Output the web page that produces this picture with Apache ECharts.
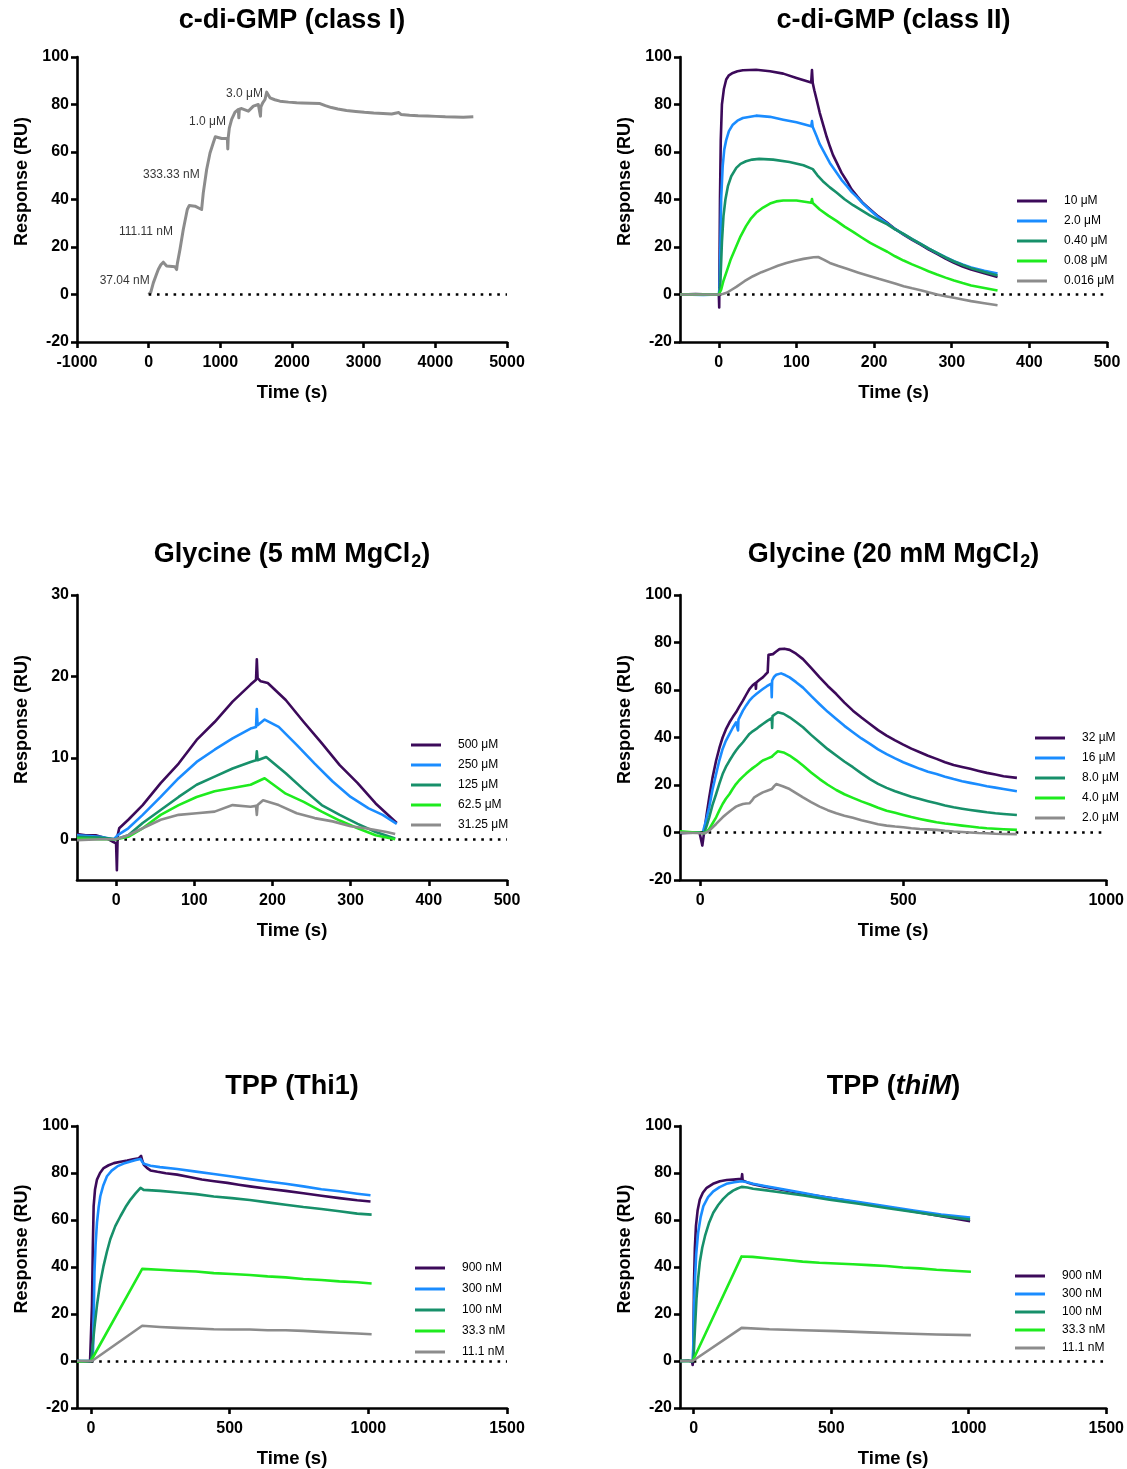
<!DOCTYPE html>
<html>
<head>
<meta charset="utf-8">
<script src="https://cdn.jsdelivr.net/npm/echarts@6/dist/echarts.min.js"></script>
<style>
html,body{margin:0;padding:0;background:#fff;}
#c{width:1127px;height:1469px;}
</style>
</head>
<body>
<div id="c"></div>
<script>
// ---------- DATA ----------
// Panel 1: c-di-GMP (class I) single-cycle trace [time s, response RU]
const classI_trace = [[0,0],[10,-0.5],[30,1],[65,4.9],[100,7.8],[134,10.5],[170,12.5],[204,13.6],[251,12],[367,11.7],[385,11.5],[390,10.5],[400,13],[437,19],[483,27.4],[539,35.8],[567,37.5],[646,37.2],[739,35.8],[745,36.5],[762,42.8],[809,52.6],[856,59.6],[902,63.9],[930,66.4],[1019,65.7],[1098,65.7],[1104,61.3],[1110,66],[1126,70.2],[1158,73.7],[1205,76.8],[1251,77.9],[1258,74.4],[1265,78],[1298,78.3],[1391,77.2],[1461,79.3],[1530,80],[1555,80],[1560,75.1],[1566,79],[1591,80.7],[1623,82.1],[1647,85.2],[1693,82.8],[1760,82],[1832,81.4],[1950,81],[2065,80.7],[2140,80.6],[2390,80.4],[2465,79.5],[2550,78.7],[2640,78.1],[2760,77.5],[2890,77.1],[3010,76.7],[3140,76.4],[3270,76.2],[3390,76],[3490,76.6],[3520,75.8],[3640,75.5],[3760,75.3],[3890,75.2],[4010,75],[4140,74.8],[4270,74.7],[4390,74.6],[4530,74.8]];
const classI_annoText = ['37.04 nM','111.11 nM','333.33 nM','1.0 \u03bcM','3.0 \u03bcM'];
const classI_annoTime = [28, 353, 726, 1093, 1609];
const classI_annoResp = [5.9, 26.4, 50.5, 72.8, 84.4];

// Panel 2: c-di-GMP (class II)
const classII_names = ['10 \u03bcM','2.0 \u03bcM','0.40 \u03bcM','0.08 \u03bcM','0.016 \u03bcM'];
const classII_10 = [[-50,0],[-30,0.2],[-10,0],[0,0],[0.5,-5.5],[1.5,40],[2.5,65],[4,80],[6.5,86.5],[9.5,90.5],[13,92.3],[18,93.3],[24,94],[31,94.4],[48,94.6],[66,94],[83,93],[100,91.2],[119,89.3],[120,94.5],[121,89],[123,86],[126,82],[130,76.5],[135,70.8],[139,66.3],[143,62.4],[147,58.8],[152,55.4],[158,51.3],[165,47.7],[171,44.3],[178,41.4],[186,38.4],[195,35.8],[205,33],[217,30.2],[227,27.6],[238,25.2],[249,23],[260,21],[270,19],[281,17.1],[292,15.1],[303,13.3],[314,11.8],[325,10.5],[342,8.9],[359,7.4]];
const classII_2 = [[-50,0],[-20,-0.2],[0,0],[1,3],[2,20],[3,40],[5,54],[7,61],[9.5,65],[13,68.8],[18,71.5],[24,73.2],[31,74.3],[48,75.3],[66,74.8],[83,73.6],[100,72.5],[119,70.8],[120,73],[121,70.5],[126,66.6],[130,63.3],[135,60.3],[143,55.4],[152,51.2],[158,48.3],[165,45.6],[171,43.2],[178,41],[186,38.2],[195,35.5],[205,32.6],[217,29.9],[227,27.5],[238,25.4],[249,23.3],[260,21.3],[270,19.4],[281,17.5],[292,15.7],[303,14],[314,12.6],[325,11.4],[342,10],[359,8.8]];
const classII_04 = [[-50,0],[0,0],[1,1],[2,5],[4,22],[6,33],[8.5,40],[11.7,45.6],[16,49.8],[22.5,53.3],[28,55],[35,56.1],[43,56.8],[52,57.1],[70,56.8],[91,55.8],[109,54.4],[121,52.8],[127,50.2],[134,47.7],[143,45.1],[152,42.8],[162,40.1],[173,37.6],[184,35.4],[195,33.2],[206,31.3],[217,29.5],[227,27.4],[238,25.5],[249,23.3],[260,21.3],[270,19.4],[281,17.5],[292,15.6],[303,13.9],[314,12.4],[325,11.1],[342,9.5],[359,8]];
const classII_008 = [[-50,0],[0,0],[3,2],[6,5.8],[9.5,9.1],[15,14.5],[22.5,20.3],[28,24.5],[35,28.8],[41,31.8],[48,34.4],[57,36.6],[66,38.3],[74,39.2],[83,39.6],[100,39.6],[119,38.6],[120,40.2],[121,38.5],[130,35.8],[141,33.2],[152,30.9],[162,28.6],[173,26.4],[184,24],[195,21.7],[206,19.8],[217,18],[227,16.1],[238,14.3],[249,12.7],[260,11.2],[270,9.8],[281,8.4],[292,7.1],[303,5.9],[314,4.8],[325,3.8],[342,2.7],[359,1.7]];
const classII_0016 = [[-50,0],[0,0],[5,0.2],[10,0.7],[16,1.9],[22.5,3.2],[33,5.6],[44,7.7],[55,9.4],[66,10.8],[76,12.1],[87,13.3],[98,14.2],[109,15],[122,15.7],[128,15.8],[135,14.7],[143,13.3],[154,12],[165,10.8],[180,9.2],[195,7.7],[206,6.6],[217,5.6],[228,4.5],[238,3.5],[249,2.6],[260,1.8],[270,0.9],[281,0],[292,-0.7],[303,-1.4],[314,-2.1],[325,-2.8],[342,-3.7],[359,-4.5]];

// Panel 3: Glycine (5 mM MgCl2)
const gly5_names = ['500 \u03bcM','250 \u03bcM','125 \u03bcM','62.5 \u03bcM','31.25 \u03bcM'];
const gly5_500 = [[-50,0.65],[-39,0.5],[-26,0.5],[-12,0.1],[-4,-0.3],[0,-0.5],[1,-3.8],[2,0.5],[4,1.35],[15.6,2.4],[34,4.2],[57,6.9],[80,9.3],[103,12.2],[126,14.4],[149,16.9],[172,19],[179,19.6],[180,22.1],[181,19.8],[185,19.4],[194,19.2],[217,17.1],[240,14.4],[263,11.8],[286,9.1],[309,6.9],[332,4.4],[359,2]];
const gly5_250 = [[-50,0.5],[-20,0.3],[-3,0],[2,0.5],[15.6,1.35],[34,3],[57,5.2],[80,7.5],[103,9.5],[126,11],[149,12.4],[172,13.6],[179,13.8],[180,16],[181,14],[190,14.7],[208,13.8],[231,11.6],[254,9.3],[277,7.1],[300,5.2],[323,3.8],[341,3],[359,1.9]];
const gly5_125 = [[-50,0.3],[-20,0.2],[0,0],[15.6,0.5],[34,2],[57,3.6],[80,5.2],[103,6.7],[126,7.7],[149,8.7],[172,9.5],[179,9.7],[180,10.8],[181,9.7],[192,10.1],[217,8.1],[240,6.1],[263,4.2],[286,3],[309,1.9],[332,0.9],[357,0.1]];
const gly5_625 = [[-50,0.1],[-20,0],[0,0],[15.6,0.3],[34,1.35],[57,3],[80,4.2],[103,5.2],[126,5.9],[149,6.3],[172,6.7],[190,7.5],[217,5.6],[240,4.6],[263,3.4],[286,2.3],[309,1.35],[332,0.5],[357,0]];
const gly5_3125 = [[-50,-0.1],[-20,0],[0,0],[15.6,0.5],[34,1.35],[57,2.4],[80,3],[103,3.2],[126,3.4],[149,4.2],[172,4],[179,4.1],[180,3],[181,4.2],[188,4.8],[208,4.2],[231,3.2],[254,2.6],[277,2.2],[300,1.6],[323,1.3],[346,0.9],[357,0.65]];

// Panel 4: Glycine (20 mM MgCl2)
const gly20_names = ['32 \u00b5M','16 \u00b5M','8.0 \u00b5M','4.0 \u00b5M','2.0 \u00b5M'];
const gly20_32 = [[-50,-0.3],[-2,0],[5,-5.5],[10,0.8],[16,8],[22,14.8],[30,23],[39,30.3],[47,35.6],[55,40],[63,43.4],[72,46.4],[80,48.6],[88,50.6],[96,53],[105,55.5],[113,58],[121,60.4],[129,62],[136,63],[137,60.5],[138,63.2],[146,64.3],[154,65.3],[160,66.4],[166,67.4],[168,74.8],[179,75.1],[187,76.2],[195,77.2],[207,77.4],[220,76.9],[236,75.3],[253,73],[273,69.3],[294,65.3],[314,61.7],[335,58.3],[355,54.7],[376,51.3],[397,48.4],[418,45.7],[438,43.1],[459,40.8],[480,38.8],[500,37],[520,35.3],[541,33.8],[561,32.3],[582,31],[603,29.6],[624,28.4],[645,27.6],[665,26.8],[686,25.9],[706,25.1],[727,24.4],[747,23.7],[780,23]];
const gly20_16 = [[-50,0],[6,0],[14,5],[22,10.6],[30,18],[39,24.6],[47,30.4],[55,35.2],[63,38.6],[72,41.5],[80,44.1],[88,46.4],[92,47],[93,43],[94,47.5],[105,51.3],[113,53.5],[121,55.5],[129,57],[138,58.3],[146,59.4],[154,60.4],[164,61.6],[175,62.7],[176,57],[177,64],[182,65.6],[187,66.4],[199,67],[209,66.3],[220,65.3],[236,63.3],[253,61],[273,57.5],[294,54],[314,50.8],[335,47.8],[355,44.9],[376,42.2],[397,39.6],[418,37.3],[438,35],[459,33],[480,31.2],[500,29.6],[520,28.2],[541,26.8],[561,25.6],[582,24.6],[603,23.5],[624,22.5],[645,21.6],[665,20.9],[686,20.2],[706,19.5],[727,18.9],[747,18.3],[780,17.4]];
const gly20_8 = [[-50,0],[10,0],[16,3],[22,6.4],[30,11.5],[39,16.2],[47,20.6],[55,24.6],[63,27.6],[72,30.3],[80,32.5],[88,34.5],[96,36.3],[105,38],[113,39.8],[121,41.5],[129,42.6],[138,43.6],[146,44.7],[154,45.7],[165,47],[176,48.2],[177,44],[178,49],[184,49.8],[191,50.6],[205,50],[220,48.5],[236,46.5],[253,44.3],[273,41.1],[294,38],[314,35.1],[335,32.4],[355,29.9],[376,27.5],[397,24.9],[418,22.5],[438,20.5],[459,18.8],[480,17.4],[500,16.2],[520,15.1],[541,14.1],[561,13.2],[582,12.3],[603,11.4],[624,10.6],[645,10],[665,9.5],[686,9],[706,8.5],[727,8.1],[747,7.8],[780,7.4]];
const gly20_4 = [[-50,0.5],[10,-0.3],[16,0.4],[22,1.5],[30,3.8],[39,6.4],[47,9.3],[55,12],[63,14.2],[72,16.2],[80,18.4],[88,20.4],[96,22],[105,23.5],[113,24.8],[121,26],[129,27.1],[138,28.2],[146,29.3],[154,30.3],[165,31.1],[176,31.9],[184,33.2],[191,34.2],[205,33.7],[220,32.4],[236,30.5],[253,28.2],[273,25.3],[294,22.5],[314,20.1],[335,17.9],[355,16.1],[376,14.6],[397,13.1],[418,11.8],[438,10.4],[459,9.2],[480,8.3],[500,7.4],[520,6.5],[541,5.7],[561,5],[582,4.3],[603,3.8],[624,3.4],[645,2.9],[665,2.5],[686,2.1],[706,1.8],[727,1.6],[747,1.4],[780,1.1]];
const gly20_2 = [[-50,0],[10,-0.3],[16,0.1],[22,0.8],[30,2.1],[39,3.6],[47,5],[55,6.4],[63,7.6],[72,8.8],[80,9.9],[88,10.9],[96,11.5],[105,12],[113,12.2],[121,12.3],[127,13.4],[133,14.8],[144,15.9],[154,16.9],[165,17.6],[176,18.3],[182,19.5],[187,20.4],[203,19.5],[220,18.3],[236,16.6],[253,14.8],[273,12.8],[294,10.9],[314,9.4],[335,8.1],[355,7.1],[376,6.2],[397,5.2],[418,4.3],[438,3.5],[459,2.9],[480,2.5],[500,2.2],[520,1.8],[541,1.5],[561,1.3],[582,1.1],[603,0.7],[624,0.4],[645,0.2],[665,0],[686,-0.2],[706,-0.3],[727,-0.5],[747,-0.6],[780,-0.7]];

// Panel 5: TPP (Thi1)
const thi1_names = ['900 nM','300 nM','100 nM','33.3 nM','11.1 nM'];
const thi1_900 = [[-50,0],[-3,-0.3],[1,0],[4,23.7],[7,48],[10,65.9],[15,73],[22,77.2],[33,80],[46,82.1],[64,83.3],[83,84.2],[107,84.8],[131,85.3],[152,85.8],[173,86.3],[181,87.3],[186,85],[191,83.5],[202,82.2],[215,81.1],[240,80.5],[270,79.9],[311,79.3],[355,78.3],[400,77.2],[445,76.5],[492,75.8],[533,75],[573,74.3],[637,73.3],[702,72.4],[766,71.4],[831,70.3],[896,69.3],[960,68.4],[1008,67.9]];
const thi1_300 = [[-50,0],[5,0],[8,5],[10,18],[13,37.8],[17,49.5],[22,58.9],[28,65.4],[34,70.1],[45,74.8],[58,78.6],[75,81],[95,82.8],[118,84],[143,84.9],[162,85.5],[179,86],[185,84.8],[191,83.9],[215,83.1],[249,82.5],[311,81.7],[379,80.6],[443,79.6],[508,78.5],[573,77.4],[637,76.4],[702,75.4],[766,74.3],[831,73.1],[896,72.2],[960,71.2],[1008,70.5]];
const thi1_100 = [[-50,0],[0,0],[3,2],[8,8.5],[14,15.5],[22,23.7],[33,32.8],[46,40.6],[58,46.6],[70,51.8],[88,57.4],[107,61.7],[125,65.5],[143,68.7],[161,71.3],[179,73.7],[190,72.8],[250,72.4],[314,71.7],[379,71],[443,70],[508,69.3],[573,68.5],[637,67.5],[702,66.5],[766,65.5],[831,64.7],[896,63.7],[960,62.7],[1012,62.3]];
const thi1_333 = [[-50,-0.3],[0,0],[4,0],[185,39.2],[249,38.8],[314,38.4],[379,38.1],[443,37.4],[508,37],[573,36.6],[637,36],[702,35.6],[766,34.9],[831,34.5],[896,33.9],[960,33.5],[1012,33]];
const thi1_111 = [[-50,0],[4,0],[185,15],[249,14.5],[314,14.1],[379,13.8],[443,13.5],[508,13.4],[573,13.4],[637,13.1],[702,13.1],[766,12.8],[831,12.4],[896,12],[960,11.7],[1012,11.4]];

// Panel 6: TPP (thiM)
const thiM_names = ['900 nM','300 nM','100 nM','33.3 nM','11.1 nM'];
const thiM_900 = [[-50,0],[-20,0.2],[-6,-0.3],[-4,-1.7],[-2,0],[1,33.5],[4,48],[8,57.5],[14,64],[22,68.7],[33,71.6],[47,73.7],[70,75.4],[95,76.5],[120,77],[143,77.2],[174,77.5],[176,79.5],[178,76.8],[195,76],[216,75.2],[258,74.2],[300,73.3],[400,71.2],[500,69.3],[600,67.3],[700,65.5],[800,63.6],[900,61.6],[1005,59.5]];
const thiM_300 = [[-50,0],[-4,0],[-2,5.4],[1,22],[4,33.5],[9,45.5],[16,54.7],[25,61.2],[35,65.9],[52,69.7],[71,72.2],[94,74],[119,75.4],[147,76.1],[174,76.5],[177,76.8],[195,76.1],[216,75.4],[258,74.5],[300,73.6],[400,71.5],[494,69.4],[600,67.6],[700,65.8],[800,64],[900,62.3],[1005,61]];
const thiM_100 = [[-50,0],[-2,0],[0,3],[5,15],[10,26.5],[16,35.2],[22,42],[31,48.3],[41,53.2],[55,58.6],[71,63.1],[89,66.4],[107,69],[125,71],[143,72.5],[159,73.4],[174,74.1],[195,73.8],[216,73.3],[258,72.7],[300,72],[400,70.4],[494,68.6],[600,66.9],[700,65.1],[800,63.4],[900,61.7],[1005,60.2]];
const thiM_333 = [[-50,0],[-4,0],[174,44.5],[214,44.3],[275,43.6],[336,43],[396,42.3],[457,41.8],[518,41.5],[579,41.2],[640,40.8],[700,40.4],[761,39.8],[822,39.4],[883,38.8],[944,38.4],[1008,38]];
const thiM_111 = [[-50,0],[-4,0],[174,14.1],[275,13.5],[396,13.1],[518,12.7],[640,12.2],[761,11.7],[883,11.3],[1008,11]];

// Axis ranges / tick labels
const ticksX1 = [-1000,0,1000,2000,3000,4000,5000];
const ticksX500 = [0,100,200,300,400,500];
const ticksX1000 = [0,500,1000];
const ticksX1500 = [0,500,1000,1500];
const ticksY100 = [-20,0,20,40,60,80,100];
const ticksY30 = [0,10,20,30];

// ---------- STYLE / LAYOUT ----------
const colors = ['#3c0a5a','#1a8cff','#17906a','#1eeb1e','#8c8c8c'];
const FONT = 'Liberation Sans, Arial, sans-serif';

const panels = [
  {title:'c-di-GMP (class I)', grid:{left:77,top:57,width:430,height:285}, x:[-1000,5000,ticksX1], y:[-20,100,ticksY100],
   series:[classI_trace], names:null, legend:null},
  {title:'c-di-GMP (class II)', grid:{left:680,top:57,width:427,height:285}, x:[-50,500,ticksX500], y:[-20,100,ticksY100],
   series:[classII_10,classII_2,classII_04,classII_008,classII_0016], names:classII_names, legend:{left:1017,top:194,gap:6}},
  {title:'{b|Glycine (5 mM MgCl}{s|2}{b|)}', grid:{left:77,top:595,width:430,height:285}, x:[-50,500,ticksX500], y:[-5,30,ticksY30],
   series:[gly5_500,gly5_250,gly5_125,gly5_625,gly5_3125], names:gly5_names, legend:{left:411,top:738,gap:6}},
  {title:'{b|Glycine (20 mM MgCl}{s|2}{b|)}', grid:{left:680,top:595,width:427,height:285}, x:[-50,1000,ticksX1000], y:[-20,100,ticksY100],
   series:[gly20_32,gly20_16,gly20_8,gly20_4,gly20_2], names:gly20_names, legend:{left:1035,top:731,gap:6}},
  {title:'TPP (Thi1)', grid:{left:77,top:1126,width:430,height:284}, x:[-50,1500,ticksX1500], y:[-20,100,ticksY100],
   series:[thi1_900,thi1_300,thi1_100,thi1_333,thi1_111], names:thi1_names, legend:{left:415,top:1261,gap:7}},
  {title:'{b|TPP (}{i|thiM}{b|)}', grid:{left:680,top:1126,width:427,height:284}, x:[-50,1500,ticksX1500], y:[-20,100,ticksY100],
   series:[thiM_900,thiM_300,thiM_100,thiM_333,thiM_111], names:thiM_names, legend:{left:1015,top:1269,gap:4}}
];

const titleTops = [5,539,1071];

const option = {
  animation:false,
  backgroundColor:'#fff',
  title:[], grid:[], xAxis:[], yAxis:[], legend:[], series:[]
};

const axisCommon = {
  axisLine:{show:true,onZero:false,lineStyle:{color:'#000',width:2.6}},
  axisTick:{show:true,inside:false,length:6,lineStyle:{color:'#000',width:2.6}},
  splitLine:{show:false},
  nameLocation:'middle'
};
const numFmt = v => String(v);

panels.forEach((p,i)=>{
  const cx = p.grid.left + p.grid.width/2;
  option.title.push({
    text:p.title, left:cx, top:titleTops[Math.floor(i/2)], textAlign:'center', padding:0,
    textStyle:{fontSize:27,fontWeight:'bold',fontFamily:FONT,color:'#000',lineHeight:32,
      rich:{
        b:{fontSize:27,fontWeight:'bold',fontFamily:FONT,color:'#000',lineHeight:32},
        s:{fontSize:18,fontWeight:'bold',fontFamily:FONT,color:'#000',verticalAlign:'bottom',lineHeight:32,padding:[14,0,0,1]},
        i:{fontSize:27,fontWeight:'bold',fontStyle:'italic',fontFamily:FONT,color:'#000',lineHeight:32}
      }}
  });
  option.grid.push(Object.assign({containLabel:false}, p.grid));
  option.xAxis.push(Object.assign({}, axisCommon, {
    type:'value', gridIndex:i, min:p.x[0], max:p.x[1],
    name:'Time (s)', nameGap:41,
    nameTextStyle:{color:'#000',fontSize:18.5,fontWeight:'bold',fontFamily:FONT},
    axisLabel:{color:'#000',fontSize:16,fontWeight:'bold',fontFamily:FONT,margin:13,customValues:p.x[2],formatter:numFmt},
    axisTick:Object.assign({}, axisCommon.axisTick, {customValues:p.x[2]})
  }));
  option.yAxis.push(Object.assign({}, axisCommon, {
    type:'value', gridIndex:i, min:p.y[0], max:p.y[1],
    name:'Response (RU)', nameGap:46,
    nameTextStyle:{color:'#000',fontSize:18,fontWeight:'bold',fontFamily:FONT,padding:[0,0,0,36]},
    axisLabel:{color:'#000',fontSize:16,fontWeight:'bold',fontFamily:FONT,margin:8,customValues:p.y[2],formatter:numFmt},
    axisTick:Object.assign({}, axisCommon.axisTick, {customValues:p.y[2]})
  }));

  p.series.forEach((d,k)=>{
    const col = p.names ? colors[k] : colors[4];
    const s = {
      type:'line', name: p.names ? p.names[k] : 'trace',
      xAxisIndex:i, yAxisIndex:i, data:d,
      showSymbol:false, symbol:'none', smooth:false,
      color:col, itemStyle:{color:col},
      lineStyle:{color:col,width:p.names ? 2.6 : 3,join:'round'}, silent:true, z:2+k
    };
    if (k===0) {
      s.markLine = {
        silent:true, symbol:'none', label:{show:false}, animation:false,
        lineStyle:{color:'#000',width:2.6,type:[2.6,5.7],cap:'butt'},
        data:[[{coord:[0,0]},{coord:[p.x[1],0]}]]
      };
    }
    option.series.push(s);
  });

  if (p.legend) {
    option.legend.push({
      data:p.names, orient:'vertical', left:p.legend.left, top:p.legend.top,
      icon:'rect', itemWidth:30, itemHeight:3, itemGap:p.legend.gap, selectedMode:false, padding:0,
      textStyle:{fontSize:12,fontFamily:FONT,color:'#000',lineHeight:14,padding:[0,0,0,12]}
    });
  }
});

// annotation labels for panel 1
option.series.push({
  type:'scatter', xAxisIndex:0, yAxisIndex:0, symbolSize:0, silent:true,
  data: classI_annoText.map((t,j)=>({value:[classI_annoTime[j], classI_annoResp[j]], name:t})),
  label:{show:true, position:'left', distance:1, formatter:'{b}', fontSize:12, fontFamily:FONT, color:'#000'}
});

const chart = echarts.init(document.getElementById('c'), null, {renderer:'canvas'});
chart.setOption(option);
</script>
</body>
</html>
